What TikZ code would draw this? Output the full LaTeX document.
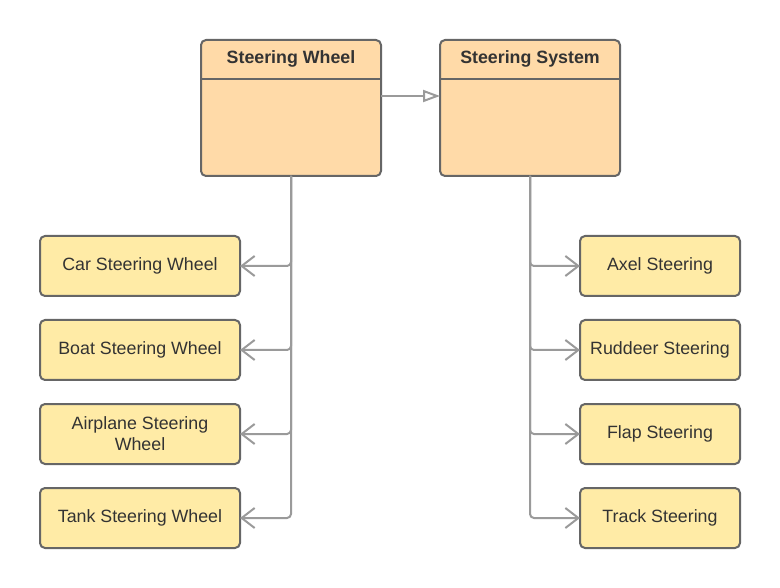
\documentclass[tikz,border=0pt]{standalone}
\usepackage{fontspec}
\setmainfont{Liberation Sans}
\usetikzlibrary{positioning, arrows.meta}

\definecolor{classfill}{HTML}{FFDAA8}
\definecolor{leaffill}{HTML}{FFEBA6}
\definecolor{boxline}{HTML}{666666}
\definecolor{linkline}{HTML}{9A9A9A}
\definecolor{textcol}{HTML}{333333}

\begin{document}
\begin{tikzpicture}[x=1pt,y=-1pt,
    every node/.style={inner sep=0,outer sep=0,text=textcol,
                       font=\fontsize{17.8}{21}\selectfont},
    classbox/.style={draw=boxline,line width=2pt,fill=classfill,
                     rounded corners=5pt,minimum width=180pt,minimum height=136pt},
    headtext/.style={font=\fontsize{17.8}{21}\selectfont\bfseries},
    leafbox/.style={draw=boxline,line width=2pt,fill=leaffill,rounded corners=5pt,
                    minimum width=200pt,minimum height=60pt,align=center},
    rleafbox/.style={leafbox,minimum width=160pt},
    link/.style={draw=linkline,line width=2pt,rounded corners=4pt,
                 -{Straight Barb[length=13pt,width=20pt,line width=2pt]}},
    gen/.style={draw=linkline,line width=2pt,
                -{Triangle[open,length=17pt,width=12pt,line width=2pt]}}]
      \useasboundingbox (0,0) rectangle (780,588);

      % the two classes
      \node[classbox](sw) at (291,108){};
      \node[classbox](ss) at (530,108){};
      \node[headtext,below=10.5pt of sw.north](swname){Steering Wheel};
      \node[headtext,below=10.5pt of ss.north](ssname){Steering System};
      \draw[boxline,line width=2pt]([yshift=-39pt]sw.north west)--([yshift=-39pt]sw.north east);
      \draw[boxline,line width=2pt]([yshift=-39pt]ss.north west)--([yshift=-39pt]ss.north east);

      % left column
      \node[leafbox](car) at (140,266){Car Steering Wheel};
      \node[leafbox](boat)[below=24pt of car]{Boat Steering Wheel};
      \node[leafbox](plane)[below=24pt of boat]{Airplane Steering\\Wheel};
      \node[leafbox](tank)[below=24pt of plane]{Tank Steering Wheel};

      % right column
      \node[rleafbox](axel) at (660,266){Axel Steering};
      \node[rleafbox](rudder)[below=24pt of axel]{Ruddeer Steering};
      \node[rleafbox](flap)[below=24pt of rudder]{Flap Steering};
      \node[rleafbox](track)[below=24pt of flap]{Track Steering};

      \coordinate(genstart) at (381,96);
      \draw[gen](genstart)--(genstart -| ss.west);

      \draw[link](sw.south)|-(car.east);
      \draw[link](sw.south)|-(boat.east);
      \draw[link](sw.south)|-(plane.east);
      \draw[link](sw.south)|-(tank.east);

      \draw[link](ss.south)|-(axel.west);
      \draw[link](ss.south)|-(rudder.west);
      \draw[link](ss.south)|-(flap.west);
      \draw[link](ss.south)|-(track.west);
    \end{tikzpicture}
\end{document}
